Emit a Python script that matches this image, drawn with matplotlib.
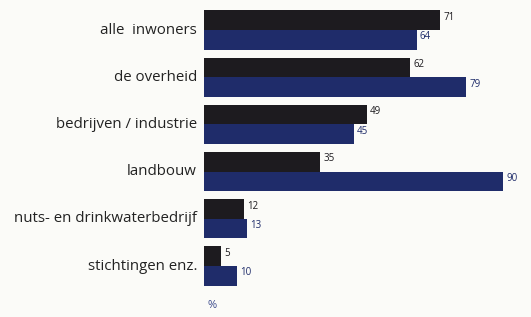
import matplotlib
matplotlib.use("Agg")
import matplotlib.pyplot as plt
import numpy as np

categories = ["alle  inwoners", "de overheid", "bedrijven / industrie", "landbouw",
              "nuts- en drinkwaterbedrijf", "stichtingen enz."]
series_black = [71, 62, 49, 35, 12, 5]
series_blue = [64, 79, 45, 90, 13, 10]
unit_label = "%"

black = "#1d1b1f"
blue = "#1f2c6a"
bg = "#fbfbf8"

W, H = 531, 317
fig = plt.figure(figsize=(W/100, H/100), dpi=100, facecolor=bg)
left_px = 204
ax = fig.add_axes([left_px/W, 0, 1 - left_px/W, 1])
ax.set_facecolor(bg)
px_per_unit = (503 - 204) / 90
ax.set_xlim(0, (W - left_px) / px_per_unit)
gap = 47.2
top_center = 30
ax.set_ylim((H - top_center) / gap, -top_center / gap)

y = np.arange(len(categories))
h = 0.415
ax.barh(y - h/2, series_black, height=h, color=black)
ax.barh(y + h/2, series_blue, height=h, color=blue)

for i, (a, b) in enumerate(zip(series_black, series_blue)):
    ax.text(a + 1.0, i - h/2 - 0.06, str(a), color=black, fontsize=7,
            family="Open Sans", va="center", ha="left")
    ax.text(b + 1.0, i + h/2 - 0.06, str(b), color=blue, fontsize=7,
            family="Open Sans", va="center", ha="left")
    fig.text((left_px - 7)/W, 1 - (top_center + i*gap)/H, categories[i],
             ha="right", va="center", fontsize=10.8, family="Open Sans", color="#222222")

fig.text(207/W, 1 - 305/H, unit_label, color="#3b4a8c", fontsize=8,
         family="Open Sans", ha="left", va="center")

ax.axis("off")
fig.savefig("out.png", dpi=100, facecolor=bg)
